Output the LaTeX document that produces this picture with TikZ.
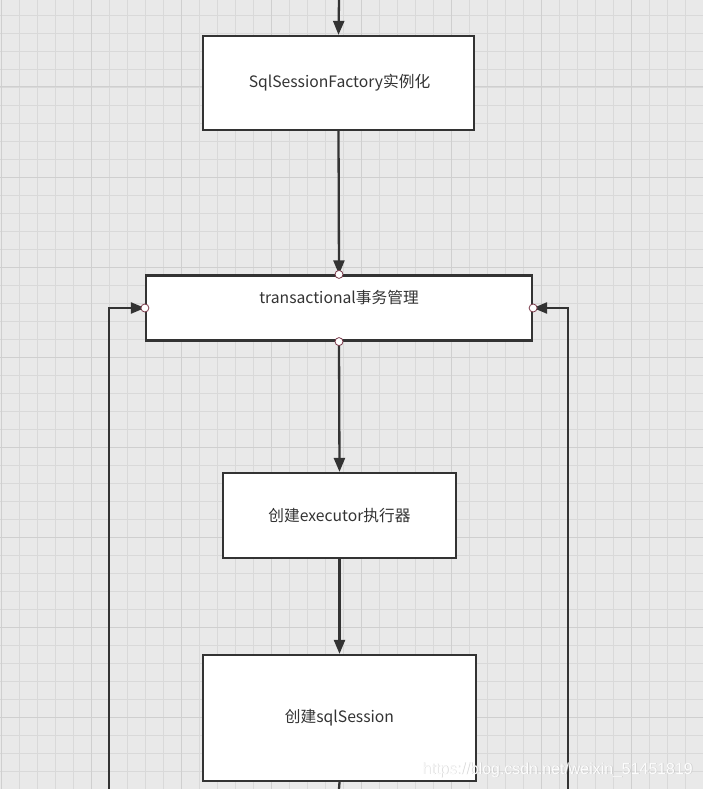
\documentclass[tikz,border=0pt]{standalone}
\usepackage{fontspec}
\setmainfont{Noto Sans CJK SC}
\newfontfamily\wmfont{Liberation Sans}
\usetikzlibrary{arrows.meta}
\definecolor{bgc}{HTML}{E9E9E9}
\definecolor{minorc}{HTML}{D9D9D9}
\definecolor{majorc}{HTML}{CFCFCF}
\definecolor{linec}{HTML}{333333}
\definecolor{handlec}{HTML}{7A3A4A}
\tikzset{
  box/.style={draw=linec, line width=2.2pt, fill=white, inner sep=0pt},
  lbl/.style={text=linec, font=\fontsize{15.7}{18}\selectfont, inner sep=0pt},
  conn/.style={draw=linec, line width=2.3pt, -{Triangle[width=11pt,length=14pt]}},
  plain/.style={draw=linec, line width=2.3pt},
  handle/.style={circle, draw=handlec, fill=white, line width=0.8pt, minimum size=8pt, inner sep=0pt},
  wm/.style={font=\wmfont\fontsize{15.9}{18}\selectfont, inner sep=0pt},
}
\begin{document}
\begin{tikzpicture}[x=1pt,y=-1pt]
\useasboundingbox (0,0) rectangle (703,789);
\fill[bgc] (0,0) rectangle (703,789);
\foreach \i in {0,...,39} {
  \draw[minorc, line width=0.8pt] ({1+18*\i},0) -- ({1+18*\i},789);
}
\foreach \j in {-1,...,44} {
  \draw[minorc, line width=0.8pt] (0,{15+18*\j}) -- (703,{15+18*\j});
}
\foreach \i in {0,...,8} {
  \draw[majorc, line width=1pt] ({1+90*\i},0) -- ({1+90*\i},789);
}
\foreach \j in {0,...,9} {
  \draw[majorc, line width=1pt] (0,{-3+90*\j}) -- (703,{-3+90*\j});
}
% nodes
\node[box, minimum width=271pt, minimum height=94pt] (f) at (338.5,83) {};
\node[lbl] (ft) at (339.5,83) {SqlSessionFactory实例化};
\node[box, minimum width=386pt, minimum height=65pt] (t) at (339,308) {};
\node[lbl] (tt) at (339,298) {transactional事务管理};
\node[box, minimum width=233pt, minimum height=85pt] (e) at (339.5,515.5) {};
\node[lbl] (et) at (339.5,516) {创建executor执行器};
\node[box, minimum width=273pt, minimum height=126pt] (s) at (339.5,718) {};
\node[lbl] (st) at (339.5,718) {创建sqlSession};
% free ends
\coordinate (top) at (339,0);
\coordinate (bot) at (339,789);
\coordinate (lb) at (109,789);
\coordinate (rb) at (568,789);
% connectors
\draw[conn] (top) -- (f.north);
\draw[conn] (f.south) -- (t.north);
\draw[conn] (t.south) -- (e.north);
\draw[conn] (e.south) -- (s.north);
\draw[plain] (s.south) -- (bot);
\draw[conn] (lb) |- (t.west);
\draw[conn] (rb) |- (t.east);
% handles
\node[handle] (h1) at (t.north) {};
\node[handle] (h2) at (t.south) {};
\node[handle] (h3) at (t.west) {};
\node[handle] (h4) at (t.east) {};
% watermark
\node[wm, text=gray!55, opacity=0.6] (wms) at (558.2,770.7) {https://blog.csdn.net/weixin\_51451819};
\node[wm, text=white, opacity=0.95] (wm) at (557.5,770) {https://blog.csdn.net/weixin\_51451819};
\end{tikzpicture}
\end{document}
